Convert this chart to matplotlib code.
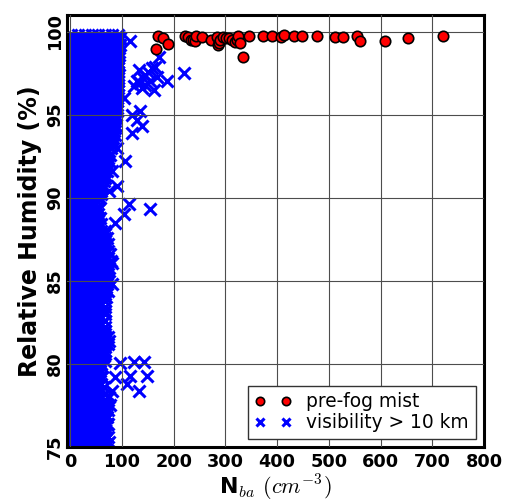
import matplotlib
matplotlib.use("Agg")
import matplotlib.pyplot as plt

plt.rcParams['mathtext.fontset'] = 'cm'
plt.rcParams['font.family'] = ['DejaVu Sans']

# ---- data: pre-fog mist (red circles) ----
mist_x = [169, 180, 188, 165, 222, 228, 233, 238, 241, 244, 255, 273, 283, 286, 288,
          290, 296, 302, 306, 312, 319, 322, 325, 328, 333, 346, 373, 390, 407, 413,
          433, 448, 477, 512, 527, 554, 560, 608, 654, 721]
mist_y = [99.76, 99.64, 99.28, 98.98, 99.72, 99.70, 99.52, 99.48, 99.42, 99.72, 99.70, 99.52, 99.70, 99.20, 99.32,
          99.48, 99.65, 99.62, 99.62, 99.48, 99.35, 99.48, 99.72, 99.32, 98.47, 99.74, 99.72, 99.72, 99.68, 99.80,
          99.74, 99.72, 99.74, 99.65, 99.68, 99.74, 99.42, 99.42, 99.64, 99.76]

# ---- data: visibility > 10 km (blue crosses), dense core listed row by row ----
core_rows_y = [99.8, 99.6, 99.4, 99.2, 99.0, 98.8, 98.6, 98.4, 98.2, 98.0,
               97.8, 97.6, 97.4, 97.2, 97.0, 96.8, 96.6, 96.4, 96.2, 96.0,
               95.8, 95.6, 95.4, 95.2, 95.0, 94.8, 94.6, 94.4, 94.2, 94.0,
               93.8, 93.6, 93.4, 93.2, 93.0, 92.8, 92.6, 92.4, 92.2, 92.0,
               91.8, 91.6, 91.4, 91.2, 91.0, 90.8, 90.6, 90.4, 90.2, 90.0,
               89.8, 89.6, 89.4, 89.2, 89.0, 88.8, 88.6, 88.4, 88.2, 88.0,
               87.8, 87.6, 87.4, 87.2, 87.0, 86.8, 86.6, 86.4, 86.2, 86.0,
               85.8, 85.6, 85.4, 85.2, 85.0, 84.8, 84.6, 84.4, 84.2, 84.0,
               83.8, 83.6, 83.4, 83.2, 83.0, 82.8, 82.6, 82.4, 82.2, 82.0,
               81.8, 81.6, 81.4, 81.2, 81.0, 80.8, 80.6, 80.4, 80.2, 80.0,
               79.8, 79.6, 79.4, 79.2, 79.0, 78.8, 78.6, 78.4, 78.2, 78.0,
               77.8, 77.6, 77.4, 77.2, 77.0, 76.8, 76.6, 76.4, 76.2, 76.0,
               75.8, 75.6, 75.4, 75.2, 75.0]
core_rows_x = [
    [2, 15, 28, 41, 54, 67, 80, 93],
    [2, 15, 28, 41, 54, 67, 80, 93, 97],
    [2, 15, 28, 41, 54, 67, 80, 93],
    [2, 15, 28, 41, 54, 67, 80, 93, 96],
    [2, 15, 28, 41, 54, 67, 80, 93],
    [2, 15, 28, 41, 54, 67, 80, 93, 95],
    [2, 15, 28, 41, 54, 67, 80, 93],
    [2, 15, 28, 41, 54, 67, 80, 93],
    [2, 15, 28, 41, 54, 67, 80, 93],
    [2, 15, 28, 41, 54, 67, 80, 93, 95],
    [2, 15, 28, 41, 54, 67, 80, 93],
    [2, 15, 28, 41, 54, 67, 80, 92],
    [2, 15, 28, 41, 54, 67, 80, 93],
    [2, 15, 28, 41, 54, 67, 80, 92],
    [2, 15, 28, 41, 54, 67, 80, 93],
    [2, 15, 28, 41, 54, 67, 80, 92],
    [2, 15, 28, 41, 54, 67, 80, 92],
    [2, 15, 28, 41, 54, 67, 80, 92],
    [2, 15, 28, 41, 54, 67, 80, 92],
    [2, 15, 28, 41, 54, 67, 80, 91],
    [2, 15, 28, 41, 54, 67, 80, 91],
    [2, 15, 28, 41, 54, 67, 80, 91],
    [2, 15, 28, 41, 54, 67, 80, 90],
    [2, 15, 28, 41, 54, 67, 80, 90],
    [2, 15, 28, 41, 54, 67, 80, 89],
    [2, 15, 28, 41, 54, 67, 80, 86],
    [2, 15, 28, 41, 54, 67, 80, 87],
    [2, 15, 28, 41, 54, 67, 80, 86],
    [2, 15, 28, 41, 54, 67, 80, 86],
    [2, 15, 28, 41, 54, 67, 80, 85],
    [2, 15, 28, 41, 54, 67, 80],
    [2, 15, 28, 41, 54, 67, 80, 82],
    [2, 15, 28, 41, 54, 67, 80],
    [2, 15, 28, 41, 54, 67, 80],
    [2, 15, 28, 41, 54, 67, 79],
    [2, 15, 28, 41, 54, 67, 73],
    [2, 15, 28, 41, 54, 67, 76],
    [2, 15, 28, 41, 54, 67, 73],
    [2, 15, 28, 41, 54, 67, 75],
    [2, 15, 28, 41, 54, 67, 72],
    [2, 15, 28, 41, 54, 67],
    [2, 15, 28, 41, 54, 67, 70],
    [2, 15, 28, 41, 54, 67],
    [2, 15, 28, 41, 54, 67],
    [2, 15, 28, 41, 54, 65],
    [2, 15, 28, 41, 54, 60],
    [2, 15, 28, 41, 54, 62],
    [2, 15, 28, 41, 54, 60],
    [2, 15, 28, 41, 54, 60],
    [2, 15, 28, 41, 54, 58],
    [2, 15, 28, 41, 52],
    [2, 15, 28, 41, 47],
    [2, 15, 28, 41, 50],
    [2, 15, 28, 41, 47],
    [2, 15, 28, 41, 54],
    [2, 15, 28, 41, 54, 57],
    [2, 15, 28, 41, 54],
    [2, 15, 28, 41, 54, 60],
    [2, 15, 28, 41, 54],
    [2, 15, 28, 41, 54, 60],
    [2, 15, 28, 41, 54, 67],
    [2, 15, 28, 41, 54, 67, 70],
    [2, 15, 28, 41, 54, 67],
    [2, 15, 28, 41, 54, 67, 73],
    [2, 15, 28, 41, 54, 67],
    [2, 15, 28, 41, 54, 67, 73],
    [2, 15, 28, 41, 54, 67, 77],
    [2, 15, 28, 41, 54, 67, 73],
    [2, 15, 28, 41, 54, 67, 78],
    [2, 15, 28, 41, 54, 67, 73],
    [2, 15, 28, 41, 54, 67, 75],
    [2, 15, 28, 41, 54, 67, 73],
    [2, 15, 28, 41, 54, 67],
    [2, 15, 28, 41, 54, 67, 73],
    [2, 15, 28, 41, 54, 67, 74],
    [2, 15, 28, 41, 54, 67, 70],
    [2, 15, 28, 41, 54, 67],
    [2, 15, 28, 41, 54, 67, 73],
    [2, 15, 28, 41, 54, 67],
    [2, 15, 28, 41, 54, 67, 69],
    [2, 15, 28, 41, 54, 67],
    [2, 15, 28, 41, 54, 60],
    [2, 15, 28, 41, 54, 67],
    [2, 15, 28, 41, 54, 67],
    [2, 15, 28, 41, 54, 67],
    [2, 15, 28, 41, 54, 60],
    [2, 15, 28, 41, 54, 67],
    [2, 15, 28, 41, 54, 60],
    [2, 15, 28, 41, 54, 67],
    [2, 15, 28, 41, 54, 67],
    [2, 15, 28, 41, 54, 67],
    [2, 15, 28, 41, 54, 67, 73],
    [2, 15, 28, 41, 54, 67, 74],
    [2, 15, 28, 41, 54, 67, 73],
    [2, 15, 28, 41, 54, 67],
    [2, 15, 28, 41, 54, 67],
    [2, 15, 28, 41, 54, 67],
    [2, 15, 28, 41, 54, 60],
    [2, 15, 28, 41, 54, 67],
    [2, 15, 28, 41, 54, 60],
    [2, 15, 28, 41, 54],
    [2, 15, 28, 41, 54, 58],
    [2, 15, 28, 41, 54],
    [2, 15, 28, 41, 54, 60],
    [2, 15, 28, 41, 54],
    [2, 15, 28, 41, 54, 60],
    [2, 15, 28, 41, 54, 65],
    [2, 15, 28, 41, 54, 60],
    [2, 15, 28, 41, 54, 67],
    [2, 15, 28, 41, 54, 60],
    [2, 15, 28, 41, 54, 67],
    [2, 15, 28, 41, 54, 67, 70],
    [2, 15, 28, 41, 54, 67],
    [2, 15, 28, 41, 54, 67, 73],
    [2, 15, 28, 41, 54, 67],
    [2, 15, 28, 41, 54, 67, 70],
    [2, 15, 28, 41, 54, 67],
    [2, 15, 28, 41, 54, 67, 73],
    [2, 15, 28, 41, 54, 67],
    [2, 15, 28, 41, 54, 67],
    [2, 15, 28, 41, 54, 67],
    [2, 15, 28, 41, 54, 67, 73],
    [2, 15, 28, 41, 54, 67],
    [2, 15, 28, 41, 54, 67, 70],
    [2, 15, 28, 41, 54, 67],
]

# scattered crosses outside the dense core
clear_x = [90, 116, 94, 171, 164, 132, 145, 129, 155, 168, 187, 219, 161, 139, 123,
           140, 150, 135, 158, 145, 103, 135, 119, 129, 87, 139, 119, 87, 90, 106,
           81, 90, 74, 113, 155, 103, 87, 55, 68, 81, 81, 97, 123, 142, 148,
           116, 132, 110, 87, 81, 61, 61, 65, 74, 77, 71, 74]
clear_y = [99.42, 99.42, 99.0, 98.5, 97.9, 97.7, 97.4, 97.0, 97.0, 97.3, 97.0, 97.5, 96.5, 96.6, 96.7,
           97.2, 97.6, 96.9, 97.8, 96.8, 96.0, 95.2, 95.0, 94.7, 94.3, 94.3, 93.9, 93.8, 93.0, 92.2,
           91.6, 90.7, 90.4, 89.6, 89.3, 89.0, 88.5, 89.3, 88.0, 86.1, 84.8, 80.04, 80.14, 80.14, 79.3,
           79.3, 78.4, 78.8, 79.2, 78.4, 79.2, 79.8, 80.45, 78.0, 77.5, 76.4, 75.3]

x_ticks = [0, 100, 200, 300, 400, 500, 600, 700, 800]
y_ticks = [75, 80, 85, 90, 95, 100]

# flatten the row listing into point lists
blue_x = []
blue_y = []
for yy, xs in zip(core_rows_y, core_rows_x):
    for xx in xs:
        blue_x.append(xx)
        blue_y.append(yy)
blue_x += clear_x
blue_y += clear_y

fig = plt.figure(figsize=(5.06, 5.03), dpi=100)
ax = fig.add_axes([0.1324, 0.1113, 0.8241, 0.8588])

ax.plot(blue_x, blue_y, linestyle='none', marker='x', color='blue',
        markersize=8, markeredgewidth=2.2, label='visibility > 10 km', zorder=2)
ax.plot(mist_x, mist_y, linestyle='none', marker='o', markerfacecolor='red',
        markeredgecolor='black', markersize=7.5, markeredgewidth=1.2,
        label='pre-fog mist', zorder=3)

ax.set_xlim(-6.4, 800)
ax.set_ylim(75, 101)
ax.set_xticks(x_ticks)
ax.set_yticks(y_ticks)
ax.set_xticklabels([str(v) for v in x_ticks], fontsize=12.7, fontweight='bold')
ax.set_yticklabels([str(v) for v in y_ticks], fontsize=12.7, fontweight='bold',
                   rotation=90, va='center')
ax.tick_params(axis='x', length=0, pad=4)
ax.tick_params(axis='y', length=0, pad=2)

ax.set_axisbelow(False)
ax.grid(True, color='0.3', linewidth=0.8, linestyle='-')

for s in ax.spines.values():
    s.set_linewidth(2.2)
    s.set_color('black')

ax.set_ylabel('Relative Humidity (%)', fontsize=17, fontweight='bold', labelpad=3)
ax.set_xlabel(r'N$_{ba}$ $(cm^{-3})$', fontsize=16, fontweight='bold', labelpad=2)

handles, labels = ax.get_legend_handles_labels()
leg = ax.legend(handles[::-1], labels[::-1], loc='lower right', numpoints=2,
                markerscale=0.8, fontsize=13.4, fancybox=False, framealpha=1,
                edgecolor='0.2', borderaxespad=0.45, labelspacing=0.1,
                borderpad=0.35)
leg.get_frame().set_linewidth(1.0)

fig.savefig('out.png', dpi=100)
